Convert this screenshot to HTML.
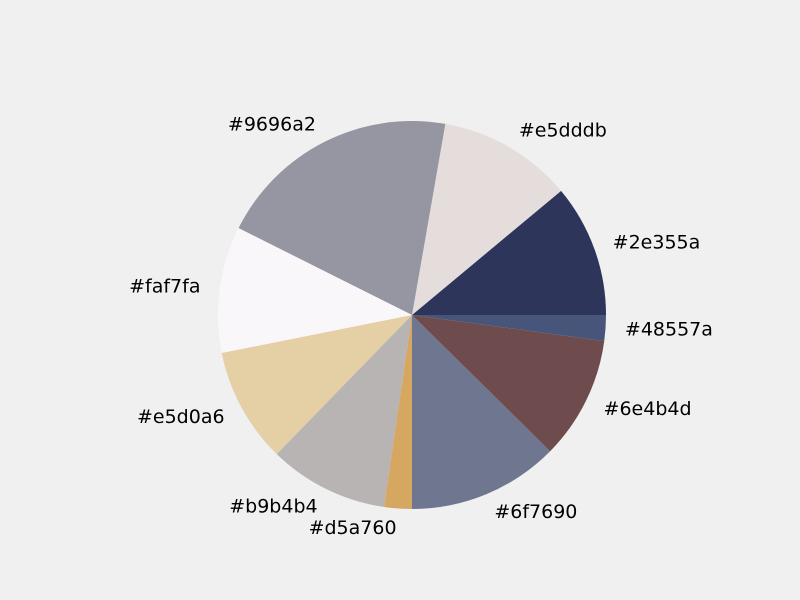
<!DOCTYPE html>
<html><head><meta charset="utf-8"><style>
html,body{margin:0;padding:0;background:#f0f0f0;}
svg{display:block;font-family:"DejaVu Sans","Liberation Sans",sans-serif;}
</style></head><body>
<svg id="chart" width="800" height="600">
<rect width="800" height="600" fill="#f0f0f0"/>
<g id="slices"></g>
<g id="labels"></g>
</svg>
<script>
const categories = ["#2e355a","#e5dddb","#9696a2","#faf7fa","#e5d0a6","#b9b4b4","#d5a760","#6f7690","#6e4b4d","#48557a"];
const values = [39.8,40.3,73.3,37.9,34.5,35.9,8.3,45.4,36.9,7.7];
const colors = ["#2e355a","#e5dddb","#9696a2","#faf7fa","#e5d0a6","#b9b4b4","#d5a760","#6f7690","#6e4b4d","#48557a"];
const cx=412, cy=315, r=194;
const ns="http://www.w3.org/2000/svg";
const total=values.reduce((a,b)=>a+b,0);
let a0=0;
const gS=document.getElementById('slices'), gL=document.getElementById('labels');
values.forEach((v,i)=>{
  const a1=a0+v/total*2*Math.PI;
  const x0=cx+r*Math.cos(a0), y0=cy-r*Math.sin(a0);
  const x1=cx+r*Math.cos(a1), y1=cy-r*Math.sin(a1);
  const large=(a1-a0)>Math.PI?1:0;
  const p=document.createElementNS(ns,'path');
  p.setAttribute('d',`M${cx},${cy} L${x0},${y0} A${r},${r} 0 ${large} 0 ${x1},${y1} Z`);
  p.setAttribute('fill',colors[i]);
  
  
  gS.appendChild(p);
  const am=(a0+a1)/2;
  const lx=cx+1.1*r*Math.cos(am), ly=cy-1.1*r*Math.sin(am);
  const t=document.createElementNS(ns,'text');
  t.setAttribute('x',lx); t.setAttribute('y',ly);
  t.setAttribute('text-anchor',Math.cos(am)>=0?'start':'end');
  t.setAttribute('dominant-baseline','central');
  t.setAttribute('font-size','19');
  t.setAttribute('fill','#000');
  t.textContent=categories[i];
  
  
  gL.appendChild(t);
  a0=a1;
});
</script>
</body></html>
